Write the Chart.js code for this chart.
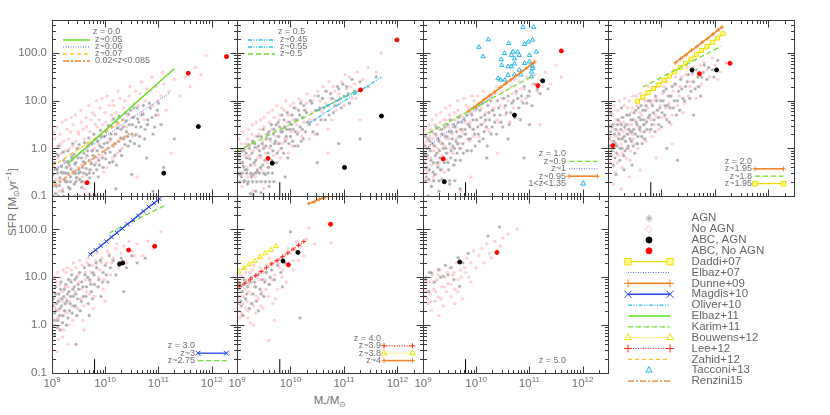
<!DOCTYPE html>
<html>
<head>
<meta charset="utf-8">
<script src="https://cdn.jsdelivr.net/npm/chart.js@4.4.0/dist/chart.umd.min.js"></script>
<style>
body{margin:0;background:#fff}
#wrap{position:relative;width:830px;height:415px;overflow:hidden}
#wrap canvas{position:absolute;left:0;top:0}
.t{position:absolute;font:11.5px "Liberation Sans",Arial,sans-serif;color:#707070;white-space:nowrap}
.t sub,.t sup{font-size:70%;line-height:0}
</style>
</head>
<body>
<div id="wrap">
<div class="t" style="left:12px;top:202px;transform:translate(-50%,-50%) rotate(-90deg)">SFR [M<sub>⊙</sub>yr<sup>−1</sup>]</div>
<div class="t" style="left:330px;top:400px;transform:translate(-50%,-50%)">M<sub>*</sub>/M<sub>⊙</sub></div>
</div>
<script>
/* all values are [log10 M*, log10 SFR] */

const xTicks = [1e9, 1e10, 1e11, 1e12]
const yTicks = [0.1, 1, 10, 100]

/* ---------- z = 0.0 ---------- */
const agnZ00 = [[9.02,-0.55],[9.05,-0.3],[9.08,-0.8],[9.1,-0.45],[9.12,-0.15],[9.15,-0.62],[9.18,-0.38],[9.2,-0.9],[9.22,-0.25],[9.25,-0.52],[9.28,-0.7],[9.3,-0.05],[9.03,-0.7],[9.07,-0.95],[9.13,0.05],[9.27,-0.4],
[9.32,-0.35],[9.35,-0.6],[9.37,-0.18],[9.4,-0.5],[9.42,-0.75],[9.45,-0.3],[9.47,0.0],[9.5,-0.45],[9.52,-0.65],[9.55,-0.2],[9.57,-0.4],[9.6,-0.1],[9.34,-0.85],[9.44,-0.52],[9.58,-0.7],[9.39,0.1],
[9.62,-0.3],[9.65,-0.55],[9.67,-0.05],[9.7,-0.25],[9.72,-0.45],[9.75,0.1],[9.77,-0.15],[9.8,-0.35],[9.82,0.2],[9.85,-0.05],[9.87,-0.6],[9.9,0.05],[9.63,-0.72],[9.78,-0.52],[9.88,-0.25],
[9.92,0.25],[9.95,-0.2],[9.98,0.1],[10.0,-0.1],[10.02,0.35],[10.05,0.0],[10.08,-0.3],[10.1,0.2],[10.12,0.45],[10.15,0.05],[10.18,-0.15],[10.2,0.3],[10.22,0.55],[10.25,0.15],[10.28,-0.05],[10.3,0.4],
[10.33,0.6],[10.35,0.2],[10.38,0.75],[10.4,0.35],[10.43,0.05],[10.45,0.5],[10.48,0.8],[10.5,0.3],[10.53,0.65],[10.55,0.1],[10.58,0.45],[10.6,0.85],[10.63,0.55],[10.65,0.25],[10.68,0.7],
[10.72,0.9],[10.75,0.4],[10.8,0.6],[10.85,0.85],[10.9,0.3],[10.95,0.7],[11.0,0.95],[11.05,0.5],[10.78,-0.2],[11.1,-0.4],
[9.0,-0.52],[9.1,-0.52],[9.2,-0.52],[9.3,-0.52],[9.4,-0.52],[9.5,-0.52],[9.6,-0.52],[9.7,-0.52],[9.05,-0.7],[9.15,-0.7],[9.25,-0.7],[9.35,-0.7],[9.45,-0.7],[9.55,-0.7],
[10.5,-0.55],[10.2,-0.85],[11.3,0.2],[10.9,-0.9],[9.02,-1],[9.12,-1],[9.22,-1],[9.32,-1],[9.42,-1],[9.52,-1],[9.62,-1],[9.72,-1],[9.82,-1],[9.92,-1],
[9.06,-0.42],[9.09,-0.12],[9.14,-0.78],[9.17,-0.5],[9.21,-0.08],[9.24,-0.65],[9.29,-0.28],[9.31,-0.82],[9.36,-0.44],[9.41,-0.12],[9.43,-0.33],[9.46,-0.62],[9.49,-0.2],[9.51,0.08],[9.54,-0.5],[9.56,-0.82],[9.59,-0.28],[9.61,0.12],[9.64,-0.42],[9.66,-0.15],[9.69,0.22],[9.71,-0.62],[9.74,-0.32],[9.76,-0.05],[9.79,0.3],[9.81,-0.18],[9.84,-0.45],[9.86,0.15],[9.89,-0.35],[9.91,0.38],[9.94,0.02],[9.96,-0.4],[9.99,0.25],[10.01,-0.22],[10.04,0.12],[10.06,0.48],[10.09,-0.08],[10.11,0.3],[10.14,-0.28],[10.16,0.62],[10.19,0.1],[10.21,-0.35],[10.24,0.42],[10.26,0.68],[10.29,0.22],[10.31,-0.15],[10.34,0.45],[10.37,0.08],[10.39,0.58],[10.42,0.25],[10.44,0.72],[10.47,0.15],[10.51,0.5],[10.54,0.85],[10.57,0.28],[10.61,0.62],[10.64,0.05],[10.67,0.45],[10.71,0.72],[10.74,0.2],[10.79,0.5],[10.83,0.95],[10.88,0.65],[10.93,0.45],[10.98,0.8]]
const noAgnZ00 = [[9.02,-0.2],[9.05,0.2],[9.08,-0.65],[9.1,0.05],[9.12,-0.4],[9.15,0.3],[9.18,-0.1],[9.2,-0.85],[9.22,0.15],[9.25,-0.3],[9.28,0.4],[9.3,-0.55],[9.33,0.0],[9.35,0.35],[9.38,-0.25],[9.4,0.5],[9.42,-0.75],[9.45,0.15],[9.48,-0.4],[9.5,0.3],[9.53,-0.1],[9.55,0.55],[9.58,-0.6],[9.6,0.2],[9.63,-0.2],[9.65,0.45],[9.68,0.05],[9.7,-0.45],[9.73,0.6],[9.75,-0.05],[9.78,0.3],[9.8,0.7],[9.83,-0.3],[9.85,0.45],[9.88,0.1],[9.9,0.85],[9.93,-0.15],[9.95,0.5],[9.98,0.25],[10.0,0.75],[10.03,-0.4],[10.05,0.4],[10.08,0.9],[10.1,0.15],[10.13,0.6],[10.15,1.0],[10.18,0.3],[10.2,0.75],[10.23,-0.1],[10.25,0.5],[10.28,1.05],[10.3,0.2],[10.35,0.85],[10.4,0.45],[10.45,1.1],[10.5,0.65],[10.55,0.95],[10.6,0.3],[10.65,1.15],[10.7,0.75],[10.75,1.0],[10.8,0.5],[10.85,1.2],[10.9,0.9],[10.95,1.3],[11.0,0.7],[11.05,1.1],[11.1,1.35],[11.15,0.8],[11.2,1.2],[11.3,1.45],[11.4,1.1],[11.5,1.5],[11.6,1.3],[11.7,1.7],[11.8,1.55],[11.9,1.95],[11.25,-0.1],[10.6,-0.6],[9.7,-0.95],
[9.03,0.35],[9.06,-0.45],[9.09,0.45],[9.11,-0.2],[9.14,-0.9],[9.16,0.1],[9.19,0.55],[9.21,-0.5],[9.24,-0.05],[9.26,0.6],[9.29,-0.7],[9.31,0.2],[9.34,-0.4],[9.36,0.65],[9.39,0.05],[9.41,-0.15],[9.44,0.7],[9.46,-0.6],[9.49,0.35],[9.51,0.0],[9.54,0.8],[9.56,-0.35],[9.59,0.4],[9.61,-0.85],[9.64,0.65],[9.66,0.1],[9.69,0.9],[9.71,0.35],[9.74,-0.3],[9.76,0.75],[9.79,0.0],[9.81,0.5],[9.84,1.0],[9.86,-0.2],[9.89,0.6],[9.91,0.25],[9.94,1.05],[9.97,-0.5],[10.01,0.55],[10.04,1.1],[10.07,0.2],[10.11,0.7],[10.14,-0.2],[10.17,0.9],[10.21,0.45],[10.24,1.2],[10.27,0.65],[10.32,0.0],[10.37,1.0],[10.42,0.7],[10.47,1.3],[10.52,0.25],[10.57,1.2],[10.62,0.9],[10.68,1.4],[10.73,0.6],[10.78,1.25],[10.88,1.5],[10.98,1.0],[11.08,1.6]]
const abcAgnZ00 = [[11.10,-0.52],[11.75,0.46]]
const abcNoAgnZ00 = [[9.66,-0.72],[11.56,1.58],[12.28,1.93]]
const elbaz11Z005 = [[9.3,-0.32],[11.30,1.68]]
const elbaz07Z006 = [[9.0,-0.49],[11.2,1.16]]
const zahid12Z007 = [[9.0,-0.38],[10.35,0.6]]
const renzini15Z0 = [[9.0,-0.81],[10.46,0.32]]

/* ---------- z = 0.5 ---------- */
const agnZ05 = [[9.02,-0.4],[9.05,-0.15],[9.08,-0.6],[9.1,-0.3],[9.13,-0.05],[9.15,-0.45],[9.18,-0.2],[9.2,-0.75],[9.23,0.0],[9.25,-0.35],[9.28,-0.1],[9.3,-0.55],[9.33,0.1],[9.35,-0.25],[9.38,-0.45],[9.4,0.05],[9.43,-0.15],[9.45,0.25],[9.48,-0.35],[9.5,0.0],[9.53,-0.55],[9.55,0.2],[9.58,-0.1],[9.6,0.35],[9.63,0.05],[9.65,-0.25],[9.68,0.3],[9.7,0.1],[9.73,0.5],[9.75,-0.1],[9.78,0.25],[9.8,0.45],[9.83,0.0],[9.85,0.35],[9.88,0.6],[9.9,0.15],[9.93,0.4],[9.95,-0.2],[9.98,0.55],[10.0,0.25],[10.03,0.7],[10.05,0.4],[10.08,0.05],[10.1,0.6],[10.13,0.3],[10.15,0.8],[10.18,0.45],[10.2,0.15],[10.23,0.65],[10.25,0.9],[10.28,0.35],[10.3,0.75],[10.35,0.5],[10.4,0.95],[10.45,0.6],[10.5,0.3],[10.55,0.85],[10.6,1.05],[10.65,0.6],[10.7,0.9],[10.75,1.15],[10.8,0.75],[10.85,1.0],[10.9,1.25],[10.95,0.85],[11.0,1.1],[11.05,1.3],[11.1,0.95],[11.2,1.2],[11.3,1.4],[11.45,1.3],[11.6,1.5],[10.9,0.1],[11.3,0.2],[10.5,-0.3],[9.9,-0.6],[9.6,-0.8],
[9.02,-0.52],[9.1,-0.52],[9.18,-0.52],[9.26,-0.52],[9.34,-0.52],[9.42,-0.52],[9.5,-0.52],[9.58,-0.52],[9.66,-0.52],[9.05,-0.7],[9.13,-0.7],[9.21,-0.7],[9.29,-0.7],[9.37,-0.7],[9.45,-0.7],[9.53,-0.7],[9.61,-0.7],[9.69,-0.7],[9.25,-0.95],[9.35,-0.9],[9.3,-0.98],[9.45,-0.93],
[9.03,-0.25],[9.06,-0.55],[9.09,-0.05],[9.12,-0.38],[9.14,-0.68],[9.17,-0.1],[9.19,-0.45],[9.22,0.08],[9.24,-0.22],[9.27,-0.6],[9.29,0.15],[9.32,-0.3],[9.34,0.02],[9.37,-0.5],[9.39,0.25],[9.42,-0.05],[9.44,-0.4],[9.47,0.1],[9.49,0.4],[9.52,-0.25],[9.54,0.05],[9.57,0.3],[9.59,-0.4],[9.62,0.2],[9.64,0.5],[9.67,-0.05],[9.69,0.4],[9.72,0.15],[9.74,-0.3],[9.77,0.55],[9.79,0.1],[9.82,0.35],[9.84,0.7],[9.87,-0.1],[9.89,0.45],[9.92,0.25],[9.94,0.75],[9.97,0.1],[9.99,0.4],[10.02,0.5],[10.04,0.15],[10.07,0.85],[10.09,0.35],[10.12,0.6],[10.14,0.05],[10.17,0.7],[10.19,0.95],[10.22,0.4],[10.24,0.2],[10.27,0.8],[10.32,0.55],[10.37,1.0],[10.42,0.35],[10.47,0.8],[10.52,1.1],[10.57,0.6],[10.62,0.85],[10.67,1.2],[10.72,0.7],[10.78,1.05],[10.83,0.9],[10.88,1.3],[10.93,1.05],[10.98,1.35],[11.08,1.15],[11.15,1.45]]
const noAgnZ05 = [[9.02,-0.1],[9.05,-0.5],[9.08,0.1],[9.1,-0.3],[9.13,-0.7],[9.15,0.0],[9.18,-0.4],[9.2,0.2],[9.23,-0.15],[9.25,-0.55],[9.28,0.3],[9.3,-0.05],[9.33,-0.35],[9.35,0.25],[9.38,0.0],[9.4,-0.5],[9.43,0.4],[9.45,-0.2],[9.48,0.15],[9.5,0.45],[9.53,-0.1],[9.55,0.3],[9.58,-0.4],[9.6,0.55],[9.63,0.15],[9.65,0.4],[9.68,-0.15],[9.7,0.65],[9.73,0.25],[9.75,0.5],[9.78,-0.05],[9.8,0.7],[9.83,0.35],[9.85,0.1],[9.88,0.8],[9.9,0.45],[9.93,0.2],[9.95,0.7],[9.98,0.4],[10.0,0.9],[10.03,0.05],[10.05,0.6],[10.1,0.85],[10.15,0.35],[10.2,1.0],[10.25,0.55],[10.3,0.95],[10.35,0.2],[10.4,0.75],[10.45,1.1],[10.5,0.5],[10.55,1.0],[10.6,0.75],[10.65,1.2],[10.7,0.4],[10.75,1.05],[10.8,1.3],[10.85,0.8],[10.9,1.15],[10.95,1.4],[11.0,0.9],[11.05,1.25],[11.1,1.5],[11.15,1.05],[11.2,1.35],[11.25,1.6],[11.35,1.45],[11.45,1.7],[11.6,1.6],[11.7,2.0],[11.3,0.6],[10.7,-0.1],[9.5,-0.85],[9.3,-0.9],
[9.03,0.2],[9.06,-0.3],[9.09,-0.8],[9.11,0.35],[9.14,-0.15],[9.16,0.1],[9.19,-0.6],[9.21,0.4],[9.24,0.05],[9.26,-0.35],[9.29,0.5],[9.31,0.15],[9.34,-0.6],[9.36,0.55],[9.39,-0.2],[9.41,0.3],[9.44,0.6],[9.46,-0.45],[9.49,0.05],[9.51,0.65],[9.54,0.2],[9.56,-0.3],[9.59,0.75],[9.61,0.0],[9.64,0.5],[9.66,0.8],[9.69,-0.3],[9.71,0.35],[9.74,0.9],[9.76,0.1],[9.79,0.6],[9.81,-0.2],[9.84,0.85],[9.86,0.4],[9.89,0.2],[9.91,1.0],[9.94,0.55],[9.96,-0.1],[9.99,0.7],[10.01,0.35],[10.06,0.95],[10.11,0.5],[10.16,1.05],[10.21,0.25],[10.26,0.8],[10.31,1.15],[10.36,0.6],[10.41,1.0],[10.46,0.3],[10.51,1.2],[10.56,0.8],[10.61,1.3],[10.66,0.95],[10.72,1.4],[10.77,0.6],[10.83,1.2],[10.92,0.95],[11.02,1.55],[11.12,1.3],[11.22,1.05]]
const abcAgnZ05 = [[9.66,-0.31],[11.01,-0.40],[11.70,0.68]]
const abcNoAgnZ05 = [[9.58,-0.21],[11.31,1.23],[11.99,2.28]]
const oliver10Z045 = [[10.35,0.53],[11.7,1.5]]
const oliver10Z055 = [[10.5,0.8],[11.32,1.24]]
const karim11Z05 = [[9.0,-0.06],[11.29,1.24]]

/* ---------- z = 1.0 ---------- */
const agnZ10 = [[9.02,-0.3],[9.04,0.05],[9.06,-0.6],[9.08,-0.15],[9.1,0.2],[9.12,-0.45],[9.14,-0.05],[9.16,-0.8],[9.18,0.1],[9.2,-0.3],[9.22,-0.55],[9.24,0.3],[9.26,-0.1],[9.28,-0.4],[9.3,0.15],[9.32,-0.2],[9.34,0.4],[9.36,-0.65],[9.38,0.0],[9.4,-0.3],[9.42,0.25],[9.44,-0.1],[9.46,0.5],[9.48,-0.45],[9.5,0.1],[9.52,-0.2],[9.54,0.35],[9.56,0.05],[9.58,-0.35],[9.6,0.45],[9.62,0.15],[9.64,-0.1],[9.66,0.55],[9.68,0.25],[9.7,-0.25],[9.72,0.4],[9.75,0.1],[9.78,0.6],[9.8,0.3],[9.83,-0.05],[9.86,0.5],[9.89,0.2],[9.92,0.7],[9.95,0.4],[9.98,0.05],[10.01,0.6],[10.04,0.3],[10.07,0.8],[10.1,0.5],[10.13,0.2],[10.16,0.7],[10.19,0.45],[10.22,0.9],[10.25,0.6],[10.28,0.3],[10.31,0.8],[10.35,0.55],[10.4,1.0],[10.45,0.7],[10.5,0.45],[10.55,0.9],[10.6,1.1],[10.65,0.75],[10.7,1.0],[10.75,1.2],[10.8,0.85],[10.85,1.1],[10.9,1.3],[10.95,0.95],[11.0,1.2],[11.1,1.35],[11.2,1.15],[11.35,1.25],[10.6,0.2],[10.9,-0.2],[11.0,0.5],[9.5,-0.75],[9.3,-0.9],[9.1,-1.0],[9.2,-0.68],[9.3,-0.68],[9.4,-0.68],[9.5,-0.68],[9.6,-0.68],[9.05,-0.68],[9.7,-0.85],[10.2,-0.2],
[9.03,-0.15],[9.05,0.25],[9.07,-0.4],[9.09,0.0],[9.11,-0.65],[9.13,0.15],[9.15,-0.25],[9.17,0.35],[9.19,-0.5],[9.21,0.05],[9.23,-0.15],[9.25,0.45],[9.27,-0.3],[9.29,0.2],[9.31,-0.05],[9.33,-0.45],[9.35,0.3],[9.37,0.1],[9.39,-0.2],[9.41,0.45],[9.43,0.0],[9.45,0.25],[9.47,-0.3],[9.49,0.35],[9.51,0.6],[9.53,-0.05],[9.55,0.2],[9.57,0.5],[9.59,0.0],[9.61,-0.25],[9.63,0.35],[9.65,0.1],[9.67,0.65],[9.69,0.0],[9.71,0.25],[9.73,0.55],[9.76,-0.1],[9.79,0.4],[9.82,0.7],[9.85,0.2],[9.88,0.45],[9.91,-0.05],[9.94,0.6],[9.97,0.3],[10.0,0.85],[10.03,0.45],[10.06,0.15],[10.09,0.65],[10.12,0.95],[10.15,0.35],[10.18,0.6],[10.21,0.05],[10.24,0.75],[10.27,1.0],[10.3,0.45],[10.34,0.7],[10.38,0.3],[10.42,0.85],[10.47,0.55],[10.52,1.05],[10.57,0.75],[10.62,0.5],[10.67,0.95],[10.72,0.65],[10.78,1.05],[10.83,0.6],[10.88,0.95],[10.97,1.1],[11.05,0.9],[11.15,1.25]]
const noAgnZ10 = [[9.02,0.1],[9.04,-0.45],[9.06,0.3],[9.08,-0.2],[9.1,-0.7],[9.12,0.05],[9.14,0.4],[9.16,-0.35],[9.18,0.2],[9.2,-0.05],[9.22,0.5],[9.24,-0.55],[9.26,0.25],[9.28,0.0],[9.3,-0.3],[9.32,0.55],[9.34,0.1],[9.36,-0.15],[9.38,0.4],[9.4,-0.5],[9.42,0.6],[9.44,0.2],[9.46,-0.1],[9.48,0.45],[9.5,0.7],[9.52,0.0],[9.55,0.3],[9.58,-0.35],[9.6,0.6],[9.63,0.2],[9.66,0.8],[9.69,0.4],[9.72,0.0],[9.75,0.65],[9.78,0.3],[9.81,0.9],[9.84,0.5],[9.87,0.15],[9.9,0.75],[9.93,0.4],[9.96,1.0],[10.0,0.6],[10.05,0.25],[10.1,0.85],[10.15,0.55],[10.2,1.05],[10.25,0.35],[10.3,0.8],[10.35,1.15],[10.4,0.6],[10.45,0.9],[10.5,1.2],[10.55,0.7],[10.6,1.0],[10.65,1.3],[10.7,0.85],[10.75,1.15],[10.8,1.4],[10.85,1.0],[10.9,1.25],[10.95,1.5],[11.0,1.1],[11.05,1.35],[11.1,1.55],[11.15,1.2],[11.2,1.45],[11.3,1.6],[11.4,1.35],[11.5,1.75],[11.6,1.5],[10.4,-0.1],[9.9,-0.6],[9.7,-0.9],[11.2,0.5],
[9.03,0.4],[9.05,-0.1],[9.07,0.15],[9.09,-0.5],[9.11,0.5],[9.13,0.25],[9.15,-0.2],[9.17,0.6],[9.19,-0.6],[9.21,0.3],[9.23,0.05],[9.25,0.7],[9.27,-0.35],[9.29,0.4],[9.31,0.15],[9.33,0.75],[9.35,-0.45],[9.37,0.3],[9.39,0.6],[9.41,0.05],[9.43,0.85],[9.45,-0.25],[9.47,0.5],[9.49,0.2],[9.51,0.9],[9.53,0.35],[9.56,-0.1],[9.59,0.75],[9.62,0.45],[9.65,1.0],[9.68,0.1],[9.71,0.7],[9.74,0.35],[9.77,1.05],[9.8,0.55],[9.83,-0.05],[9.86,0.85],[9.89,0.55],[9.92,1.1],[9.95,0.25],[9.99,0.8],[10.03,1.1],[10.08,0.5],[10.13,1.2],[10.18,0.75],[10.23,0.4],[10.28,1.1],[10.33,0.85],[10.38,1.3],[10.43,0.55],[10.48,1.05],[10.53,0.85],[10.58,1.4],[10.63,0.55],[10.68,1.15],[10.73,1.45],[10.83,1.25],[10.93,1.05],[11.03,1.5],[11.25,1.3]]
const abcAgnZ10 = [[9.40,-0.70],[10.72,0.70],[11.25,1.42]]
const abcNoAgnZ10 = [[9.38,-0.22],[11.16,1.32],[11.60,2.05]]
const karim11Z09 = [[9.1,0.32],[11.09,1.54]]
const elbaz07Z1 = [[9.1,0.04],[10.3,1.09]]
const dunne09Z095 = [[9.85,0.78],[9.95,0.86],[10.05,0.94],[10.15,1.03],[10.25,1.11],[10.35,1.19],[10.45,1.28],[10.55,1.36],[10.65,1.44],[10.75,1.53],[10.85,1.61],[10.95,1.69],[11.05,1.78],[11.1,1.82]]
const tacconi13Z1 = [[10.88,2.55],[11.08,2.55],[10.23,2.29],[10.05,2.13],[10.61,2.21],[10.98,2.24],[11.06,2.28],[10.91,2.19],[10.13,1.93],[10.69,2.03],[10.78,2.03],[10.66,1.96],[10.53,2.0],[10.72,1.89],[10.81,1.96],[11.0,1.96],[11.13,2.03],[10.47,1.87],[10.48,1.75],[10.72,1.78],[10.6,1.72],[10.66,1.72],[10.91,1.79],[11.0,1.82],[11.06,1.73],[10.81,1.65],[10.6,1.54],[10.72,1.55],[10.84,1.55],[11.04,1.61],[10.41,1.47],[10.46,1.44],[10.54,1.44],[11.04,1.51],[11.06,1.68]]

/* ---------- z = 2.0 ---------- */
const agnZ20 = [[9.02,0.2],[9.04,-0.15],[9.06,0.45],[9.08,0.05],[9.1,-0.35],[9.12,0.3],[9.14,0.1],[9.16,-0.1],[9.18,0.5],[9.2,0.2],[9.22,-0.25],[9.24,0.4],[9.26,0.0],[9.28,0.65],[9.3,0.25],[9.32,-0.05],[9.34,0.5],[9.36,0.3],[9.38,0.05],[9.4,0.7],[9.42,0.35],[9.44,0.15],[9.46,0.6],[9.48,0.4],[9.5,-0.1],[9.52,0.8],[9.54,0.5],[9.56,0.25],[9.58,0.65],[9.6,0.45],[9.62,0.9],[9.64,0.1],[9.66,0.6],[9.68,0.35],[9.7,0.8],[9.72,0.55],[9.75,1.0],[9.78,0.7],[9.8,0.4],[9.83,0.9],[9.86,0.6],[9.89,1.1],[9.92,0.8],[9.95,0.5],[9.98,1.0],[10.01,0.75],[10.04,1.2],[10.07,0.9],[10.1,0.6],[10.13,1.1],[10.16,0.85],[10.2,1.3],[10.24,1.0],[10.28,0.7],[10.32,1.2],[10.36,1.45],[10.4,1.05],[10.45,1.3],[10.5,1.55],[10.55,1.2],[10.6,1.4],[10.65,1.65],[10.7,1.3],[10.75,1.5],[10.8,1.75],[10.85,1.45],[10.95,1.65],[11.05,1.85],[10.3,-0.25],[10.1,0.0],[10.6,0.7],[9.3,-0.45],[9.15,-0.55],[9.45,-0.35],[9.05,0.75],[9.25,0.85],
[9.03,0.05],[9.05,0.35],[9.07,-0.05],[9.09,0.5],[9.11,0.15],[9.13,-0.2],[9.15,0.4],[9.17,0.05],[9.19,0.6],[9.21,0.3],[9.23,0.0],[9.25,0.5],[9.27,0.2],[9.29,-0.15],[9.31,0.45],[9.33,0.15],[9.35,0.7],[9.37,0.0],[9.39,0.4],[9.41,0.2],[9.43,0.6],[9.45,0.35],[9.47,0.05],[9.49,0.75],[9.51,0.3],[9.53,0.55],[9.55,0.1],[9.57,0.85],[9.59,0.4],[9.61,0.6],[9.63,0.25],[9.65,0.8],[9.67,0.5],[9.69,0.2],[9.71,0.9],[9.73,0.4],[9.76,0.65],[9.79,1.0],[9.82,0.5],[9.85,0.75],[9.88,0.35],[9.91,1.0],[9.94,0.65],[9.97,0.85],[10.0,0.45],[10.03,1.0],[10.06,0.7],[10.09,1.25],[10.12,0.9],[10.15,0.55],[10.18,1.1],[10.22,0.85],[10.26,1.35],[10.3,1.0],[10.34,0.8],[10.38,1.25],[10.43,1.0],[10.48,1.4],[10.53,1.05],[10.58,1.6],[10.63,1.25],[10.68,1.5],[10.73,1.1],[10.78,1.6],[10.88,1.7],[10.98,1.5]]
const noAgnZ20 = [[9.02,0.5],[9.04,-0.3],[9.06,0.15],[9.08,0.7],[9.1,-0.05],[9.12,0.4],[9.14,-0.5],[9.16,0.25],[9.18,0.8],[9.2,-0.15],[9.22,0.55],[9.24,0.1],[9.26,-0.4],[9.28,0.35],[9.3,0.9],[9.32,0.15],[9.34,-0.2],[9.36,0.7],[9.38,0.3],[9.4,1.0],[9.42,-0.05],[9.44,0.5],[9.46,0.85],[9.48,0.2],[9.5,0.6],[9.53,1.1],[9.56,0.0],[9.59,0.75],[9.62,0.35],[9.65,1.05],[9.68,0.5],[9.71,0.15],[9.74,0.85],[9.77,1.2],[9.8,0.6],[9.83,0.25],[9.86,1.0],[9.89,0.7],[9.92,1.3],[9.95,0.4],[9.98,0.9],[10.02,1.15],[10.06,0.65],[10.1,1.4],[10.14,0.95],[10.18,0.5],[10.22,1.2],[10.26,1.5],[10.3,0.9],[10.35,1.3],[10.4,0.75],[10.45,1.55],[10.5,1.1],[10.55,1.4],[10.6,1.7],[10.65,1.05],[10.7,1.6],[10.75,1.35],[10.8,1.8],[10.9,1.5],[11.0,1.75],[11.1,1.6],[11.2,1.8],[9.1,-0.75],[9.25,-0.85],[9.4,-0.6],[9.6,-0.45],[9.9,-0.2],[10.2,0.1],
[9.03,0.25],[9.05,0.85],[9.07,-0.15],[9.09,0.45],[9.11,0.9],[9.13,0.05],[9.15,0.6],[9.17,-0.3],[9.19,0.35],[9.21,1.0],[9.23,0.2],[9.25,0.65],[9.27,-0.1],[9.29,0.55],[9.31,1.05],[9.33,0.4],[9.35,0.0],[9.37,0.85],[9.39,0.5],[9.41,-0.25],[9.43,0.75],[9.45,0.3],[9.47,1.1],[9.49,0.6],[9.51,0.1],[9.54,0.9],[9.57,0.45],[9.6,1.15],[9.63,0.7],[9.66,0.2],[9.69,1.0],[9.72,0.6],[9.75,1.3],[9.78,0.35],[9.81,0.95],[9.84,1.25],[9.87,0.5],[9.9,1.05],[9.93,0.8],[9.96,1.45],[9.99,0.65],[10.04,1.3],[10.08,0.85],[10.12,1.55],[10.16,1.1],[10.2,0.7],[10.24,1.35],[10.28,1.65],[10.33,1.1],[10.38,1.5],[10.43,0.95],[10.48,1.7],[10.53,1.3],[10.58,1.55],[10.63,1.85],[10.68,1.3],[10.73,1.75],[10.85,1.65],[10.95,1.9],[11.05,1.45]]
const abcAgnZ20 = [[10.57,1.65],[11.03,1.65]]
const abcNoAgnZ20 = [[9.09,0.06],[10.71,1.57],[11.28,1.79]]
const dunne09Z195 = [[10.26,1.80],[10.36,1.89],[10.46,1.97],[10.56,2.06],[10.66,2.14],[10.76,2.23],[10.86,2.31],[10.96,2.40],[11.06,2.49],[11.13,2.55]]
const karim11Z18 = [[9.65,1.29],[11.12,2.15]]
const daddi07Z195 = [[9.55,0.99],[9.65,1.08],[9.75,1.17],[9.85,1.26],[9.95,1.34],[10.05,1.43],[10.15,1.52],[10.25,1.61],[10.35,1.70],[10.45,1.79],[10.55,1.88],[10.65,1.97],[10.75,2.06],[10.85,2.14],[10.95,2.23],[11.05,2.32],[11.15,2.41]]

/* ---------- z = 3.0 ---------- */
const agnZ30 = [[9.02,0.4],[9.04,0.1],[9.06,0.65],[9.08,0.3],[9.1,-0.05],[9.12,0.5],[9.14,0.2],[9.16,0.75],[9.18,0.4],[9.2,0.05],[9.22,0.6],[9.24,0.3],[9.26,0.85],[9.28,0.5],[9.3,0.15],[9.32,0.7],[9.34,0.45],[9.36,0.9],[9.38,0.25],[9.4,0.6],[9.42,0.8],[9.44,0.4],[9.46,1.0],[9.48,0.55],[9.5,0.75],[9.53,0.3],[9.56,0.9],[9.59,0.6],[9.62,1.05],[9.65,0.8],[9.68,0.45],[9.71,0.95],[9.74,0.7],[9.77,1.1],[9.8,0.85],[9.84,1.2],[9.88,0.95],[9.92,0.6],[9.96,1.1],[10.0,1.25],[10.05,0.9],[10.1,1.2],[10.15,1.35],[10.2,1.05],[10.25,1.25],[10.3,1.4],[10.4,1.2],[10.5,1.45],[10.6,1.3],[10.75,1.4],[9.05,-0.2],[9.45,-0.4],[9.7,0.2],[10.35,0.7],[9.15,-0.1],
[9.03,0.55],[9.05,0.25],[9.07,0.8],[9.09,0.45],[9.11,0.1],[9.13,0.65],[9.15,0.35],[9.17,0.9],[9.19,0.55],[9.21,0.2],[9.23,0.75],[9.25,0.45],[9.27,0.0],[9.29,0.65],[9.31,0.95],[9.33,0.3],[9.35,0.6],[9.37,1.05],[9.39,0.75],[9.41,0.4],[9.43,0.95],[9.45,0.65],[9.47,0.2],[9.49,0.85],[9.52,1.1],[9.55,0.5],[9.58,0.8],[9.61,1.2],[9.64,0.6],[9.67,1.0],[9.7,1.25],[9.73,0.85],[9.76,0.55],[9.79,1.05],[9.83,1.3],[9.87,0.8],[9.91,1.35],[9.95,0.9],[10.02,1.05],[10.08,1.45]]
const noAgnZ30 = [[9.02,0.7],[9.04,0.0],[9.06,0.35],[9.08,0.9],[9.1,0.15],[9.12,-0.3],[9.14,0.55],[9.16,1.0],[9.18,0.2],[9.2,0.7],[9.22,-0.1],[9.24,0.45],[9.26,1.1],[9.28,0.25],[9.3,0.8],[9.33,0.5],[9.36,1.15],[9.39,0.1],[9.42,0.65],[9.45,1.2],[9.48,0.35],[9.51,0.9],[9.54,0.55],[9.57,1.25],[9.6,0.4],[9.63,0.95],[9.66,1.3],[9.7,0.65],[9.74,1.1],[9.78,0.35],[9.82,1.35],[9.86,0.8],[9.9,1.15],[9.94,1.4],[9.98,0.95],[10.02,1.3],[10.06,1.5],[10.1,1.05],[10.15,1.4],[10.2,1.6],[10.25,1.2],[10.3,1.5],[10.35,1.65],[10.4,1.3],[10.5,1.55],[10.6,1.7],[10.7,1.45],[10.8,1.75],[10.9,1.6],[11.05,1.95],[9.1,-0.55],[9.3,-0.4],[9.2,-0.25],[9.6,-0.1],[10.0,0.5],
[9.03,0.45],[9.05,1.0],[9.07,0.1],[9.09,0.65],[9.11,1.1],[9.13,0.3],[9.15,0.85],[9.17,-0.1],[9.19,0.5],[9.21,1.15],[9.23,0.3],[9.25,0.8],[9.27,0.55],[9.29,1.2],[9.31,0.0],[9.34,0.95],[9.37,0.4],[9.4,1.3],[9.43,0.7],[9.46,0.2],[9.49,1.05],[9.52,1.35],[9.55,0.75],[9.58,0.1],[9.62,1.1],[9.65,0.7],[9.68,1.4],[9.72,0.9],[9.76,1.25],[9.8,0.6],[9.84,1.5],[9.88,1.0],[9.92,1.3],[9.96,0.75],[10.04,1.55],[10.12,1.3],[10.22,1.7],[10.32,1.35],[10.45,1.75],[10.55,1.45]]
const abcAgnZ30 = [[10.27,1.28],[10.33,1.30]]
const abcNoAgnZ30 = [[10.44,1.57],[10.93,1.65]]
const magdis10Z3 = [[9.72,1.48],[9.82,1.57],[9.92,1.66],[10.02,1.75],[10.12,1.84],[10.22,1.93],[10.32,2.02],[10.42,2.11],[10.52,2.20],[10.62,2.29],[10.72,2.38],[10.82,2.47],[10.92,2.55],[11.02,2.64]]
const karim11Z275 = [[10.08,1.93],[11.14,2.51]]

/* ---------- z = 4.0 ---------- */
const agnZ40 = [[9.02,0.6],[9.05,0.85],[9.08,0.4],[9.1,0.7],[9.13,0.95],[9.16,0.55],[9.2,0.8],[9.23,0.35],[9.26,1.0],[9.3,0.65],[9.33,0.9],[9.36,0.5],[9.4,1.05],[9.43,0.75],[9.47,0.95],[9.5,0.6],[9.55,1.1],[9.6,0.85],[9.65,1.15],[9.7,0.95],[9.76,1.25],[9.82,1.1],[9.9,1.3],[10.0,1.95],[10.18,0.15],[9.1,0.2],[9.4,0.3],[9.85,0.8],
[9.03,0.75],[9.07,0.5],[9.12,0.85],[9.18,0.65],[9.24,0.9],[9.28,0.45],[9.35,0.8],[9.45,0.65],[9.52,0.9],[9.62,1.0]]
const noAgnZ40 = [[9.02,0.3],[9.03,0.9],[9.05,0.15],[9.07,0.6],[9.09,1.0],[9.11,0.45],[9.13,0.2],[9.15,0.75],[9.17,1.1],[9.19,0.5],[9.21,0.3],[9.23,0.85],[9.25,0.05],[9.27,0.65],[9.29,1.15],[9.31,0.4],[9.33,0.8],[9.35,0.25],[9.37,1.0],[9.4,0.55],[9.43,1.2],[9.46,0.7],[9.49,0.35],[9.52,0.95],[9.55,1.25],[9.58,0.6],[9.61,0.85],[9.64,1.3],[9.67,0.45],[9.7,1.05],[9.73,1.35],[9.76,0.75],[9.8,1.2],[9.84,1.0],[9.88,1.45],[9.92,0.9],[9.96,1.3],[10.0,1.5],[10.05,1.15],[10.1,1.55],[10.15,1.35],[10.2,1.65],[10.25,1.45],[10.3,1.8],[10.34,2.03],[10.45,1.7],[10.76,1.72],[9.59,-0.32],[9.05,-0.1],[9.3,0.0],[9.7,0.1],[9.02,0.55],
[9.04,0.45],[9.06,1.05],[9.08,0.25],[9.1,0.8],[9.12,0.6],[9.14,1.2],[9.16,0.35],[9.18,0.95],[9.2,0.15],[9.22,0.7],[9.24,1.1],[9.26,0.45],[9.28,0.9],[9.32,1.25],[9.36,0.6],[9.41,0.95],[9.45,0.4],[9.5,1.1],[9.54,0.75],[9.6,1.4],[9.66,0.95],[9.72,0.55],[9.78,1.3],[9.86,1.15],[9.95,1.6],[10.05,1.35],[10.12,1.75]]
const abcAgnZ40 = [[9.86,1.34],[10.14,1.52]]
const abcNoAgnZ40 = [[10.75,2.11],[9.96,1.26]]
const lee12Z39 = [[9.05,0.81],[9.15,0.88],[9.25,0.96],[9.35,1.04],[9.45,1.12],[9.55,1.20],[9.65,1.28],[9.75,1.35],[9.85,1.43],[9.95,1.51],[10.05,1.59],[10.15,1.67],[10.25,1.75]]
const bouwens12Z38 = [[9.03,1.12],[9.13,1.19],[9.23,1.27],[9.33,1.34],[9.43,1.42],[9.53,1.50],[9.63,1.57],[9.73,1.65]]
const dunne09Z4 = [[10.34,2.54],[10.44,2.58],[10.54,2.63],[10.64,2.67],[10.74,2.71]]

/* ---------- z = 5.0 ---------- */
const agnZ50 = [[9.05,0.95],[9.12,1.1],[9.16,1.09],[9.22,0.9],[9.29,1.16],[9.33,1.0],[9.38,1.02],[9.42,1.25],[9.47,1.05],[9.53,1.2],[9.58,0.95],[9.66,1.41],[9.69,0.81],[9.75,1.3],[9.85,1.5],[10.22,1.86],[10.44,2.05],[9.1,0.7]]
const noAgnZ50 = [[9.02,0.85],[9.04,0.73],[9.06,1.0],[9.08,0.55],[9.1,0.45],[9.12,0.9],[9.14,0.65],[9.16,0.31],[9.18,1.05],[9.2,0.75],[9.23,0.5],[9.26,0.95],[9.29,0.59],[9.32,1.15],[9.35,0.8],[9.38,0.4],[9.41,1.0],[9.44,0.7],[9.47,0.87],[9.5,1.2],[9.53,0.6],[9.56,1.05],[9.6,0.75],[9.63,1.3],[9.66,0.95],[9.7,1.15],[9.74,0.55],[9.78,1.2],[9.82,1.4],[9.86,1.0],[9.9,1.3],[9.95,1.55],[10.0,1.2],[10.05,1.45],[10.1,1.6],[10.15,1.3],[10.2,1.7],[10.25,1.5],[10.29,1.41],[10.35,1.75],[10.45,1.65],[10.5,1.82],[10.6,1.9],[10.77,2.01],[9.3,0.2],[9.6,0.45],[9.9,0.9],
[9.03,0.6],[9.07,0.9],[9.11,0.7],[9.15,0.5],[9.19,0.9],[9.24,0.7],[9.28,1.05],[9.34,0.55],[9.4,0.8],[9.46,1.1],[9.52,0.85],[9.58,1.1],[9.65,0.7],[9.72,1.0],[9.8,1.1]]
const abcAgnZ50 = [[9.69,1.32]]
const abcNoAgnZ50 = [[10.39,1.52]]

/* mass limit marker drawn at the bottom of every panel */
const massLimit = [[9.8,-1.0],[9.8,-0.71]]

/* ---------------- STYLES ---------------- */

const styles = {
agn:{point:'star',color:'#acacac',r:1.7,bw:0.9,lr:3.6},
noAgn:{point:'rectRot',color:'#ffc4cc',dataFill:'#ffdde2',r:1.5,lr:3.6},
abcAgn:{point:'circle',color:'#000000',fill:'#000000',r:2,lr:3},
abcNoAgn:{point:'circle',color:'#ff0000',fill:'#ff0000',r:2,lr:3},
daddi:{line:true,width:1.3,color:'#f0dc00',point:'rect',fill:'#ffff90',r:2.8,lr:4.5},
elbaz07:{line:true,width:1,dash:[1,1.5],color:'#5064f0'},
dunne:{line:true,width:1.6,color:'#f5852a',point:'cross',r:2,lr:4},
magdis:{line:true,width:1.3,color:'#2244ee',point:'crossRot',r:3,lr:5},
oliver:{line:true,width:1.3,dash:[4,1.5,1,1.5,1,1.5],color:'#28bff0'},
elbaz11:{line:true,width:1.4,color:'#5ee01e'},
karim:{line:true,width:1.3,dash:[5,3],color:'#6ee030'},
bouwens:{line:true,width:1,dash:[1,1.5],color:'#f0e000',point:'triangle',r:2.8,lr:4},
lee:{line:true,width:1.2,dash:[1,1.5],color:'#ff2a1a',point:'cross',r:2.2,lr:4},
zahid:{line:true,width:1.3,dash:[4,3],color:'#ffc020'},
tacconi:{point:'triangle',color:'#22b5f0',r:2.5,lr:3.6},
renzini:{line:true,width:1.8,dash:[6,2,2,2],color:'#f6a060'}
}

const bigLegend = [['agn','AGN'],['noAgn','No AGN'],['abcAgn','ABC, AGN'],['abcNoAgn','ABC, No AGN'],['daddi','Daddi+07'],['elbaz07','Elbaz+07'],['dunne','Dunne+09'],['magdis','Magdis+10'],['oliver','Oliver+10'],['elbaz11','Elbaz+11'],['karim','Karim+11'],['bouwens','Bouwens+12'],['lee','Lee+12'],['zahid','Zahid+12'],['tacconi','Tacconi+13'],['renzini','Renzini15']]

const panels = [
{z:'z = 0.0',agn:agnZ00,noAgn:noAgnZ00,abcAgn:abcAgnZ00,abcNoAgn:abcNoAgnZ00,legend:'tl',
 fits:[['elbaz11',elbaz11Z005,'z~0.05'],['elbaz07',elbaz07Z006,'z~0.06'],['zahid',zahid12Z007,'z~0.07'],['renzini',renzini15Z0,'0.02<z<0.085']]},
{z:'z = 0.5',agn:agnZ05,noAgn:noAgnZ05,abcAgn:abcAgnZ05,abcNoAgn:abcNoAgnZ05,legend:'tl',
 fits:[['oliver',oliver10Z045,'z~0.45'],['oliver',oliver10Z055,'z~0.55'],['karim',karim11Z05,'z~0.5']]},
{z:'z = 1.0',agn:agnZ10,noAgn:noAgnZ10,abcAgn:abcAgnZ10,abcNoAgn:abcNoAgnZ10,legend:'br',
 fits:[['karim',karim11Z09,'z~0.9'],['elbaz07',elbaz07Z1,'z~1'],['dunne',dunne09Z095,'z~0.95'],['tacconi',tacconi13Z1,'1<z<1.35']]},
{z:'z = 2.0',agn:agnZ20,noAgn:noAgnZ20,abcAgn:abcAgnZ20,abcNoAgn:abcNoAgnZ20,legend:'br',
 fits:[['dunne',dunne09Z195,'z~1.95'],['karim',karim11Z18,'z~1.8'],['daddi',daddi07Z195,'z~1.95']]},
{z:'z = 3.0',agn:agnZ30,noAgn:noAgnZ30,abcAgn:abcAgnZ30,abcNoAgn:abcNoAgnZ30,legend:'br',
 fits:[['magdis',magdis10Z3,'z~3'],['karim',karim11Z275,'z~2.75']]},
{z:'z = 4.0',agn:agnZ40,noAgn:noAgnZ40,abcAgn:abcAgnZ40,abcNoAgn:abcNoAgnZ40,legend:'br',
 fits:[['lee',lee12Z39,'z~3.9'],['bouwens',bouwens12Z38,'z~3.8'],['dunne',dunne09Z4,'z~4']]},
{z:'z = 5.0',agn:agnZ50,noAgn:noAgnZ50,abcAgn:abcAgnZ50,abcNoAgn:abcNoAgnZ50,legend:'br',fits:[]}
]

/* ---------------- LAYOUT ---------------- */

const colEdges = [52,237,423,608,794]
const rowEdges = [20,196,373]
const textCol = '#707070'
const FONT = '"Liberation Sans", Arial, sans-serif'

const toXY = a => a.map(p => ({x:Math.pow(10,p[0]), y:Math.pow(10,p[1])}))

function makeSet(arr, st){
return {
data:toXY(arr),
showLine:!!st.line,
borderColor:st.color,
borderWidth:st.width||1,
borderDash:st.dash||[],
pointStyle:st.point||'circle',
pointRadius:st.point ? st.r : 0,
pointBorderColor:st.color,
pointBackgroundColor:st.dataFill||st.fill||'rgba(0,0,0,0)',
pointBorderWidth:st.bw||1
}
}

function buildSets(p){
let sets = []
sets.push(makeSet(p.abcNoAgn, styles.abcNoAgn))
sets.push(makeSet(p.abcAgn, styles.abcAgn))
p.fits.forEach(f => sets.push(makeSet(f[1], styles[f[0]])))
sets.push(makeSet(massLimit, {line:true, width:1, color:'#000000'}))
sets.push(makeSet(p.agn, styles.agn))
sets.push(makeSet(p.noAgn, styles.noAgn))
return sets
}

/* ---------------- MARKERS FOR LEGENDS ---------------- */

function marker(ctx, st, r, x, y){
ctx.save()
ctx.setLineDash([])
ctx.strokeStyle = st.color
ctx.lineWidth = 1
ctx.beginPath()
const k = Math.SQRT1_2*r
switch(st.point){
case 'circle': ctx.arc(x,y,r,0,Math.PI*2); break
case 'rect': ctx.rect(x-k,y-k,2*k,2*k); break
case 'rectRot': ctx.moveTo(x,y-r); ctx.lineTo(x+r,y); ctx.lineTo(x,y+r); ctx.lineTo(x-r,y); ctx.closePath(); break
case 'triangle':
ctx.moveTo(x,y-r); ctx.lineTo(x+r*0.866,y+r*0.5); ctx.lineTo(x-r*0.866,y+r*0.5); ctx.closePath(); break
case 'cross': ctx.moveTo(x,y-r); ctx.lineTo(x,y+r); ctx.moveTo(x-r,y); ctx.lineTo(x+r,y); break
case 'crossRot': ctx.moveTo(x-k,y-k); ctx.lineTo(x+k,y+k); ctx.moveTo(x-k,y+k); ctx.lineTo(x+k,y-k); break
case 'star':
ctx.moveTo(x,y-r); ctx.lineTo(x,y+r); ctx.moveTo(x-r,y); ctx.lineTo(x+r,y)
ctx.moveTo(x-k,y-k); ctx.lineTo(x+k,y+k); ctx.moveTo(x-k,y+k); ctx.lineTo(x+k,y-k); break
}
if(st.fill){ ctx.fillStyle = st.fill; ctx.fill() }
ctx.stroke()
ctx.restore()
}

function sample(ctx, st, x1, x2, y, r){
if(st.line){
ctx.save()
ctx.strokeStyle = st.color
ctx.lineWidth = st.width||1
ctx.setLineDash(st.dash||[])
ctx.beginPath(); ctx.moveTo(x1,y); ctx.lineTo(x2,y); ctx.stroke()
ctx.restore()
if(st.point){ marker(ctx,st,r,x1,y); marker(ctx,st,r,x2,y) }
}else{
marker(ctx, st, r, (x1+x2)/2, y)
}
}

/* ---------------- FRAME, TICKS, LABELS ---------------- */

const framePlugin = {
id:'frame',
afterDraw(chart, args, o){
const ctx = chart.ctx
const a = chart.chartArea
const xs = chart.scales.x, ys = chart.scales.y
const L = Math.round(a.left)+0.5, R = Math.round(a.right)+0.5
const T = Math.round(a.top)+0.5, B = Math.round(a.bottom)+0.5
ctx.save()
ctx.setLineDash([])
ctx.strokeStyle = '#3a3a3a'
ctx.lineWidth = 1
ctx.strokeRect(L, T, R-L, B-T)
ctx.beginPath()
for(let d=9; d<=12; d++) for(let m=1; m<10; m++){
const v = m*Math.pow(10,d)
if(v>3e12) continue
const px = Math.round(xs.getPixelForValue(v))+0.5
const len = m===1 ? 7 : 3.5
ctx.moveTo(px,B); ctx.lineTo(px,B-len)
ctx.moveTo(px,T); ctx.lineTo(px,T+len)
}
for(let d=-1; d<=2; d++) for(let m=1; m<10; m++){
const v = m*Math.pow(10,d)
if(v>500) continue
const py = Math.round(ys.getPixelForValue(v))+0.5
const len = m===1 ? 7 : 3.5
ctx.moveTo(L,py); ctx.lineTo(L+len,py)
ctx.moveTo(R,py); ctx.lineTo(R-len,py)
}
ctx.stroke()

ctx.fillStyle = textCol

/* x tick labels with superscript exponents */
if(o.xLabels){
xTicks.forEach(v=>{
const px = xs.getPixelForValue(v)
const e = String(Math.round(Math.log10(v)))
ctx.font = '11.5px '+FONT
const w1 = ctx.measureText('10').width
ctx.font = '8px '+FONT
const w2 = ctx.measureText(e).width
const x0 = px-(w1+w2)/2
ctx.textAlign = 'left'; ctx.textBaseline = 'alphabetic'
ctx.font = '11.5px '+FONT
ctx.fillText('10', x0, a.bottom+14)
ctx.font = '8px '+FONT
ctx.fillText(e, x0+w1, a.bottom+9)
})
}

/* panel legend */
const p = o.panel
ctx.font = '9px '+FONT
ctx.textBaseline = 'middle'
if(p.legend==='tl'){
ctx.textAlign = 'left'
ctx.fillStyle = textCol
ctx.fillText(p.z, a.left+41, a.top+12)
p.fits.forEach((f,k)=>{
const y = a.top+20+7*k
sample(ctx, styles[f[0]], a.left+11, a.left+38, y, styles[f[0]].r*1.2)
ctx.fillStyle = textCol
ctx.fillText(f[2], a.left+43, y)
})
}else{
const n = p.fits.length
const rowY = k => a.bottom-12.4-7.4*(n-1-k)
ctx.textAlign = 'right'
ctx.fillStyle = textCol
ctx.fillText(p.z, a.right-42, rowY(-1))
p.fits.forEach((f,k)=>{
const y = rowY(k)
sample(ctx, styles[f[0]], a.right-39, a.right-10.5, y, styles[f[0]].r*1.2)
ctx.fillStyle = textCol
ctx.fillText(f[2], a.right-42, y)
})
}

/* main legend in the empty lower-right cell */
if(o.bigLegend){
ctx.font = '11.5px '+FONT
ctx.textAlign = 'left'
ctx.textBaseline = 'middle'
bigLegend.forEach((b,k)=>{
const y = 218.3+10.85*k
const st = styles[b[0]]
sample(ctx, st, 628, 670, y, st.lr)
ctx.fillStyle = '#666666'
ctx.fillText(b[1], 691.5, y)
})
}
ctx.restore()
}
}

/* ---------------- BUILD CHARTS ---------------- */

const wrap = document.getElementById('wrap')

panels.forEach((p,i)=>{
const col = i%4, row = Math.floor(i/4)
const cv = document.createElement('canvas')
cv.width = 830
cv.height = 415
wrap.appendChild(cv)
new Chart(cv,{
type:'scatter',
data:{datasets:buildSets(p)},
options:{
responsive:false,
animation:false,
devicePixelRatio:1,
events:[],
layout:{autoPadding:false,padding:{left:col===0 ? 0 : colEdges[col],right:830-colEdges[col+1],top:rowEdges[row],bottom:415-rowEdges[row+1]}},
plugins:{legend:{display:false},tooltip:{enabled:false},frame:{panel:p,xLabels:row===1,bigLegend:i===6}},
scales:{
x:{type:'logarithmic',min:1e9,max:3e12,
afterBuildTicks:s=>{s.ticks = xTicks.map(v=>({value:v}))},
afterFit:s=>{s.height = 0},
ticks:{display:false},grid:{display:false,drawTicks:false},border:{display:false}},
y:{type:'logarithmic',min:0.1,max:500,
afterBuildTicks:s=>{s.ticks = yTicks.map(v=>({value:v}))},
afterFit:s=>{s.width = col===0 ? colEdges[0] : 0},
ticks:{display:col===0,padding:5,color:textCol,font:{family:FONT,size:11.5},callback:v=>Number(v).toFixed(1)},
grid:{display:false,drawTicks:false},border:{display:false}}
}
},
plugins:[framePlugin]
})
})
</script>
</body>
</html>
